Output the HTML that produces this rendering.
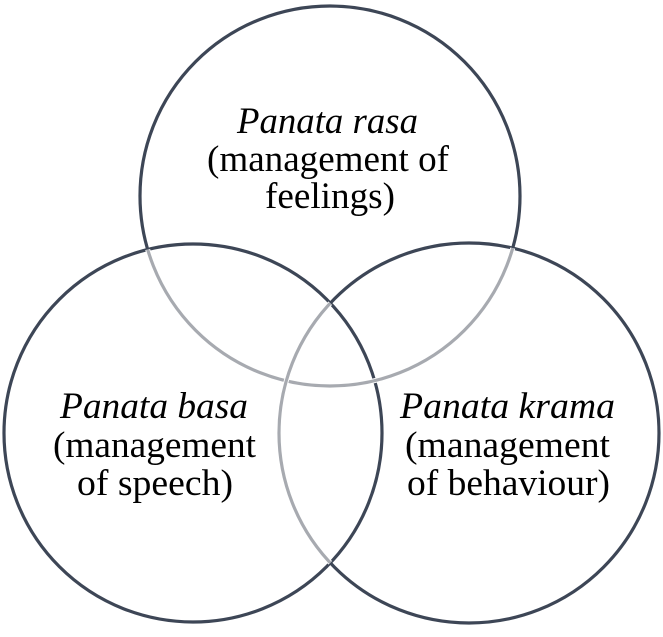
<!DOCTYPE html>
<html><head><meta charset="utf-8"><style>
html,body{margin:0;padding:0;background:#fff;}
svg{display:block;}
text{font-family:"Liberation Serif","Times New Roman",serif;font-size:37px;fill:#000;}
.i{font-style:italic;}
</style></head><body>
<svg width="663" height="637" viewBox="0 0 663 637" xmlns="http://www.w3.org/2000/svg">
<defs>
<clipPath id="lr"><circle cx="193" cy="433" r="189"/><circle cx="469" cy="433" r="190"/></clipPath>
<clipPath id="l"><circle cx="193" cy="433" r="189"/></clipPath>
</defs>
<g fill="none" stroke-width="3.2">
<circle cx="330" cy="196" r="190" stroke="#3d4656"/>
<circle cx="193" cy="433" r="189" stroke="#3d4656"/>
<circle cx="469" cy="433" r="190" stroke="#3d4656"/>
<g clip-path="url(#lr)">
<circle cx="330" cy="196" r="190" stroke="#fff" stroke-width="5"/>
<circle cx="330" cy="196" r="190" stroke="#a7aab0" stroke-width="3.2"/>
</g>
<g clip-path="url(#l)">
<circle cx="469" cy="433" r="190" stroke="#fff" stroke-width="5"/>
<circle cx="469" cy="433" r="190" stroke="#a7aab0" stroke-width="3.2"/>
</g>
</g>
<text class="i" x="237" y="133" textLength="181" lengthAdjust="spacingAndGlyphs">Panata rasa</text>
<text x="207" y="171" textLength="242" lengthAdjust="spacingAndGlyphs">(management of</text>
<text x="265" y="208" textLength="130" lengthAdjust="spacingAndGlyphs">feelings)</text>
<text class="i" x="60" y="418" textLength="188" lengthAdjust="spacingAndGlyphs">Panata basa</text>
<text x="53" y="457" textLength="203" lengthAdjust="spacingAndGlyphs">(management</text>
<text x="77" y="495" textLength="156" lengthAdjust="spacingAndGlyphs">of speech)</text>
<text class="i" x="400" y="418" textLength="215" lengthAdjust="spacingAndGlyphs">Panata krama</text>
<text x="405" y="457" textLength="205" lengthAdjust="spacingAndGlyphs">(management</text>
<text x="407" y="495" textLength="203" lengthAdjust="spacingAndGlyphs">of behaviour)</text>
</svg>
</body></html>
